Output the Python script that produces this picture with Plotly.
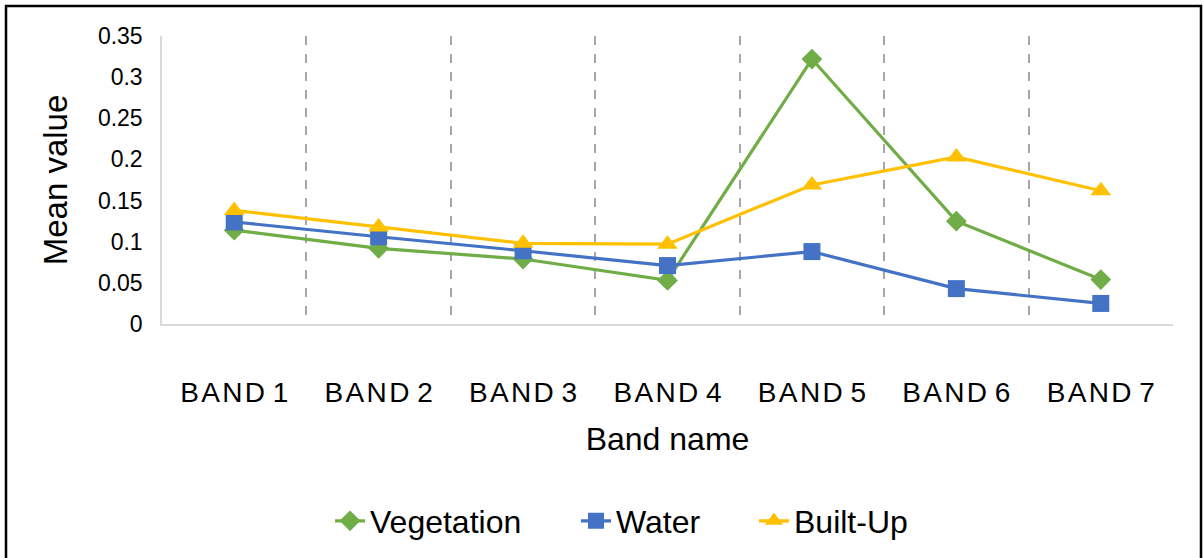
import plotly.graph_objects as go

# Band labels and mean reflectance per land-cover class
bands = ["BAND 1", "BAND 2", "BAND 3", "BAND 4", "BAND 5", "BAND 6", "BAND 7"]
vegetation = [0.114, 0.092, 0.079, 0.053, 0.322, 0.125, 0.054]
water = [0.124, 0.106, 0.089, 0.071, 0.088, 0.043, 0.025]
built_up = [0.138, 0.118, 0.098, 0.097, 0.169, 0.203, 0.162]

y_ticks = [0, 0.05, 0.1, 0.15, 0.2, 0.25, 0.3, 0.35]

W, H = 1203, 558
ML, MR, MT, MB = 162, 30, 36, 234
FONT = "Liberation Sans, Arial, sans-serif"

HAIR = "\u200a"


def spaced(label):
    # widen category labels with hair spaces between the letters of each word
    return " ".join(HAIR.join(word) for word in label.split(" "))


fig = go.Figure()

# one legend per series so each entry can be placed on its own
series = [
    ("Vegetation", vegetation, "#70AD47", "diamond", 16, "legend", 330),
    ("Water", water, "#4472C4", "square", 17, "legend2", 576),
    ("Built-Up", built_up, "#FFC000", "triangle-up", 18, "legend3", 754),
]
legend_layout = {}
for name, vals, color, symbol, size, leg, left in series:
    fig.add_trace(go.Scatter(
        x=bands, y=vals, name=name, mode="lines+markers",
        line=dict(color=color, width=3.2),
        marker=dict(symbol=symbol, size=size, color=color),
        legend=leg,
    ))
    legend_layout[leg] = dict(
        orientation="h", xref="container", yref="container",
        x=left / W, y=1 - 521 / H, xanchor="left", yanchor="middle",
        font=dict(size=32, color="black"),
        bgcolor="rgba(0,0,0,0)",
    )

pw = W - ML - MR
ph = H - MT - MB
# outer chart frame
fig.add_shape(
    type="rect", xref="paper", yref="paper",
    x0=(6 - ML) / pw, x1=(1201 - ML) / pw,
    y0=(H - MB - 570) / ph, y1=(H - MB - 6) / ph,
    line=dict(color="black", width=2.5), fillcolor="rgba(0,0,0,0)",
    layer="below",
)

fig.update_layout(
    width=W, height=H,
    margin=dict(l=ML, r=MR, t=MT, b=MB),
    paper_bgcolor="white", plot_bgcolor="white",
    font=dict(family=FONT, color="black"),
    showlegend=True,
    **legend_layout,
    xaxis=dict(
        type="category", tickson="boundaries",
        tickvals=bands, ticktext=[spaced(b) for b in bands],
        showgrid=True, gridcolor="#a6a6a6", griddash="dash", gridwidth=2,
        showline=True, linecolor="#d9d9d9", linewidth=1.5,
        ticks="", ticklabelstandoff=43,
        tickfont=dict(size=28, color="black"),
        title=dict(text="Band name", font=dict(size=32, color="black"), standoff=20),
        range=[-0.5, 6.5], fixedrange=True,
    ),
    yaxis=dict(
        range=[0, 0.35], tickvals=y_ticks,
        ticktext=[f"{v:g}" for v in y_ticks],
        showgrid=False, zeroline=False,
        showline=True, linecolor="#d9d9d9", linewidth=1.5,
        ticks="", ticklabelstandoff=13,
        tickfont=dict(size=23, color="black"),
        title=dict(text="Mean value", font=dict(size=33, color="black"), standoff=20),
    ),
)

fig.write_html("out.html")
